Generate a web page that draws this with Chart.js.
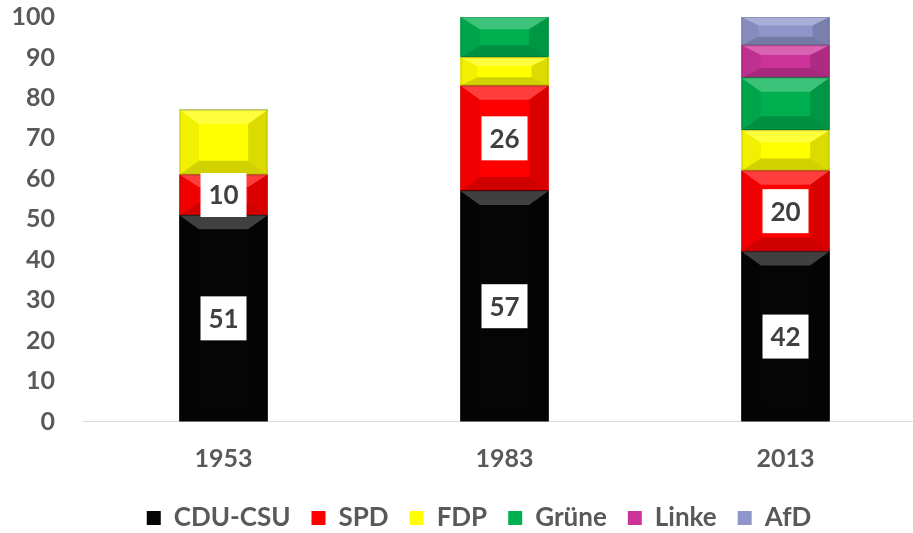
<!DOCTYPE html>
<html>
<head>
<meta charset="utf-8">
<script src="https://cdn.jsdelivr.net/npm/chart.js@4"></script>
<style>
  html, body { margin: 0; padding: 0; overflow: hidden; background: #fff; }
  #wrap { position: absolute; left: 0; top: -26px; width: 940px; height: 571px; }
</style>
</head>
<body>
<div id="wrap"><canvas id="seatChart"></canvas></div>
<script>
// Sitzverteilung (Prozent) je Wahljahr
const years = ['1953', '1983', '2013'];
const cduCsu = [51, 57, 42];
const spd = [10, 26, 20];
const fdp = [16, 7, 10];
const gruene = [0, 10, 13];
const linke = [0, 0, 8];
const afd = [0, 0, 7];
const yTicks = [0, 10, 20, 30, 40, 50, 60, 70, 80, 90, 100];

const textGray = '#595959';
const fontFam = 'Lato, "Open Sans", sans-serif';

// bevel look for each segment
const bevelPlugin = {
    id: 'bevel',
    afterDatasetsDraw(chart) {
        const c = chart.ctx;
        chart.data.datasets.forEach((ds, i) => {
            const meta = chart.getDatasetMeta(i);
            if (meta.hidden) return;
            meta.data.forEach(bar => {
                const p = bar.getProps(['x', 'y', 'base', 'width'], true);
                const l = p.x - p.width / 2, r = p.x + p.width / 2;
                const t = Math.min(p.y, p.base), b = Math.max(p.y, p.base);
                const h = b - t;
                if (h < 1) return;
                const dx = Math.min(p.width * 0.22, h * 0.6);
                const dy = Math.min(h * 0.3, 14);
                const poly = (pts, col) => {
                    c.beginPath();
                    c.moveTo(pts[0][0], pts[0][1]);
                    pts.slice(1).forEach(q => c.lineTo(q[0], q[1]));
                    c.closePath();
                    c.fillStyle = col;
                    c.fill();
                };
                c.save();
                poly([[l, t], [r, t], [r - dx, t + dy], [l + dx, t + dy]], 'rgba(255,255,255,0.24)');
                poly([[l, b], [r, b], [r - dx, b - dy], [l + dx, b - dy]], 'rgba(0,0,0,0.18)');
                poly([[l, t], [l + dx, t + dy], [l + dx, b - dy], [l, b]], 'rgba(0,0,0,0.06)');
                poly([[r, t], [r - dx, t + dy], [r - dx, b - dy], [r, b]], 'rgba(0,0,0,0.14)');
                c.strokeStyle = 'rgba(0,0,0,0.15)';
                c.lineWidth = 1;
                c.strokeRect(l + 0.5, t + 0.5, p.width - 1, h - 1);
                c.restore();
            });
        });
    }
};

// white value boxes for CDU-CSU and SPD
const valueBoxPlugin = {
    id: 'valueBoxes',
    afterDatasetsDraw(chart) {
        const c = chart.ctx;
        [0, 1].forEach(i => {
            const meta = chart.getDatasetMeta(i);
            meta.data.forEach((bar, j) => {
                const v = chart.data.datasets[i].data[j];
                if (!v) return;
                const p = bar.getProps(['x', 'y', 'base'], true);
                const cy = (p.y + p.base) / 2;
                c.save();
                c.fillStyle = '#ffffff';
                c.fillRect(p.x - 23, cy - 22, 46, 44);
                c.fillStyle = '#404040';
                c.font = 'bold 26px ' + fontFam;
                c.textAlign = 'center';
                c.textBaseline = 'middle';
                c.fillText(String(v), p.x, cy + 1);
                c.restore();
            });
        });
    }
};

// legend sits a bit right of the canvas centre
const legendShift = {
    id: 'legendShift',
    afterLayout(chart) {
        chart.legend.left += 11;
        chart.legend.right += 11;
    }
};

new Chart(document.getElementById('seatChart'), {
    type: 'bar',
    data: {
        labels: years,
        datasets: [
            { label: 'CDU-CSU', data: cduCsu, backgroundColor: '#050505' },
            { label: 'SPD', data: spd, backgroundColor: '#ff0000' },
            { label: 'FDP', data: fdp, backgroundColor: '#ffff00' },
            { label: 'Grüne', data: gruene, backgroundColor: '#00b050' },
            { label: 'Linke', data: linke, backgroundColor: '#cc3399' },
            { label: 'AfD', data: afd, backgroundColor: '#8e95c9' }
        ]
    },
    options: {
        responsive: true,
        maintainAspectRatio: false,
        animation: false,
        datasets: { bar: { barThickness: 88 } },
        layout: { padding: { top: 16, left: 10, right: 14, bottom: 4 } },
        plugins: {
            tooltip: { enabled: false },
            legend: {
                position: 'bottom',
                labels: {
                    color: textGray,
                    font: { family: fontFam, size: 26, weight: 'bold' },
                    boxWidth: 14,
                    boxHeight: 14,
                    padding: 21
                }
            }
        },
        scales: {
            x: {
                stacked: true,
                grid: { display: false, drawTicks: false },
                border: { display: true, color: '#d9d9d9', width: 1 },
                ticks: {
                    color: textGray,
                    padding: 22,
                    font: { family: fontFam, size: 25, weight: 'bold' }
                },
                afterFit: s => { s.height = 62.5; }
            },
            y: {
                stacked: true,
                min: 0,
                max: 100,
                afterBuildTicks: s => { s.ticks = yTicks.map(v => ({ value: v })); },
                grid: { display: false, drawTicks: false },
                border: { display: false },
                ticks: {
                    color: textGray,
                    padding: 28,
                    font: { family: fontFam, size: 25, weight: 'bold' }
                },
                afterFit: s => { s.width = 73; }
            }
        }
    },
    plugins: [bevelPlugin, valueBoxPlugin, legendShift]
});
</script>
</body>
</html>
